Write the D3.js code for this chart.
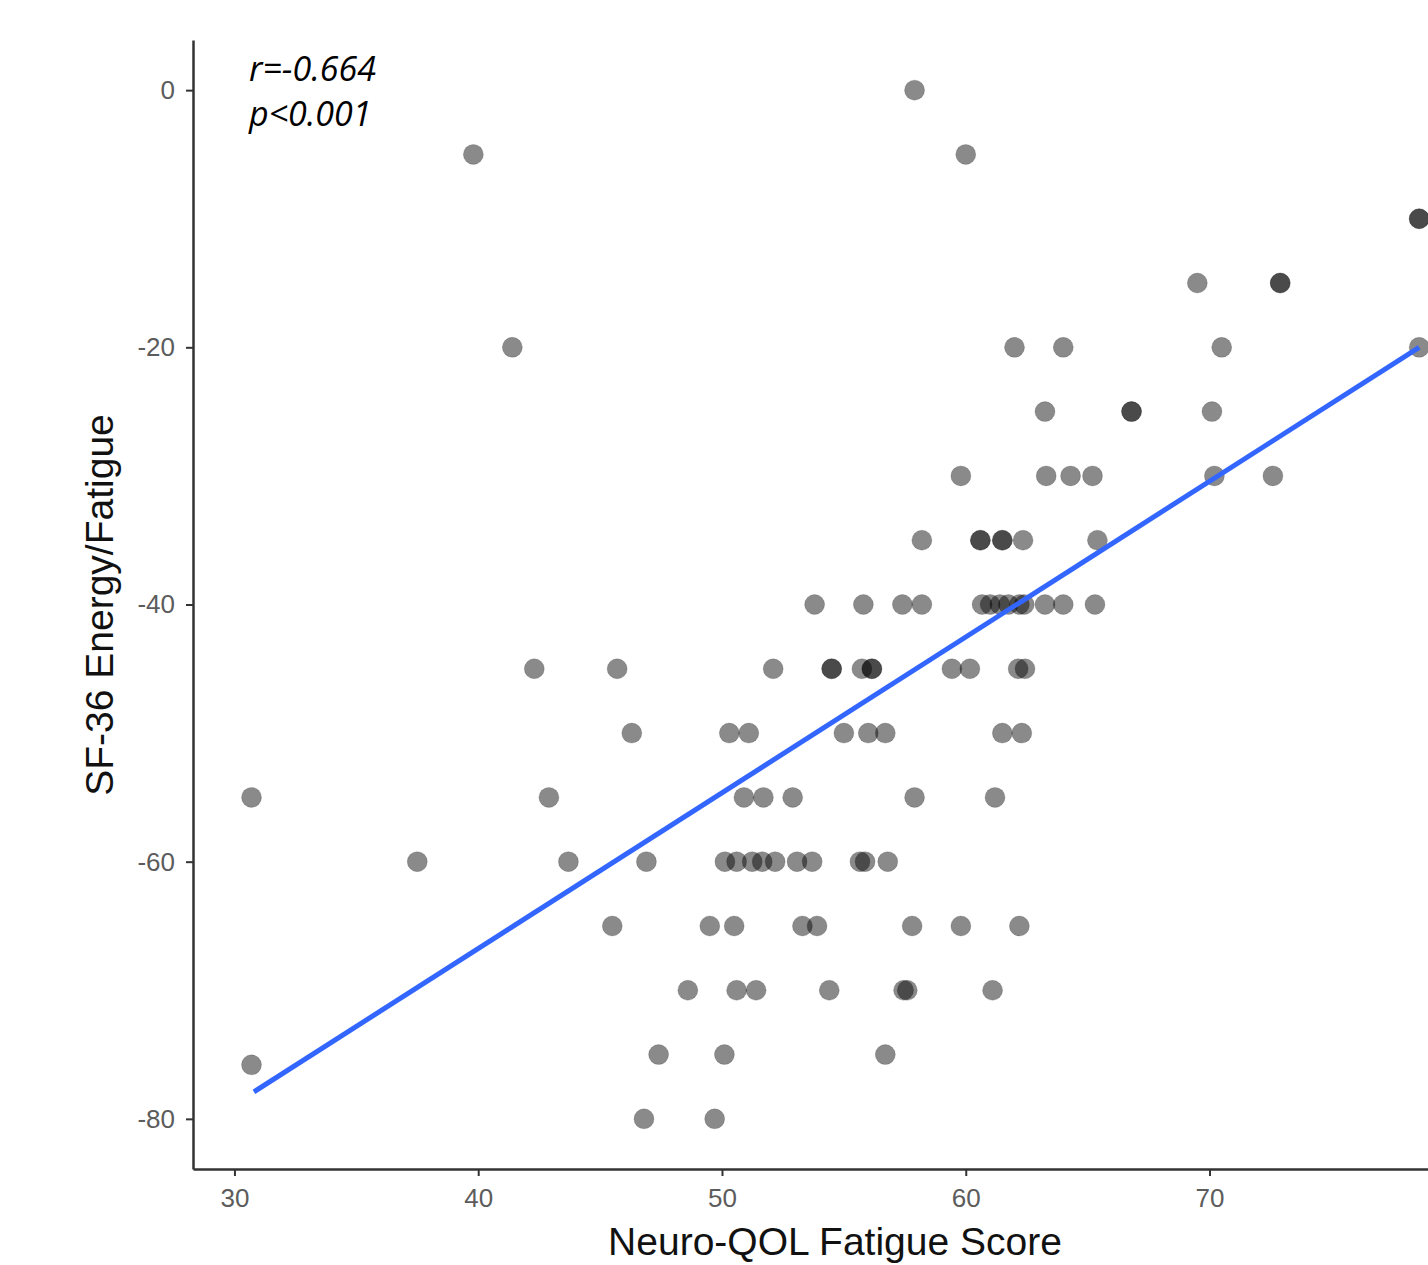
<!DOCTYPE html>
<html>
<head>
<meta charset="utf-8">
<script src="https://cdn.jsdelivr.net/npm/d3@7"></script>
<style>
  body { margin: 0; background: #fff; }
  svg { display: block; }
</style>
</head>
<body>
<script>
// Neuro-QOL fatigue vs SF-36 energy/fatigue
var fatigueScore = [
  57.9,
  39.8, 60.0,
  78.6, 78.6,
  69.5, 72.9, 72.9,
  41.4, 62.0, 64.0, 70.5, 78.6,
  63.25, 66.8, 66.8, 70.1,
  59.8, 63.3, 64.3, 65.2, 70.2, 72.6,
  58.2, 60.6, 60.6, 61.5, 61.5, 62.35, 65.4,
  53.8, 55.8, 57.4, 58.2, 60.67, 61.0, 61.4, 61.75, 62.2, 62.4, 63.25, 64.0, 65.3,
  42.3, 45.7, 52.1, 54.5, 54.5, 55.74, 56.15, 56.15, 59.43, 60.17, 62.15, 62.43,
  46.3, 50.3, 51.1, 55.0, 56.0, 56.7, 61.5, 62.3,
  30.7, 42.9, 50.9, 51.7, 52.9, 57.9, 61.2,
  37.5, 43.7, 46.9, 50.12, 50.6, 51.24, 51.65, 52.18, 53.08, 53.7, 55.66, 55.87, 56.8,
  45.5, 49.5, 50.5, 53.3, 53.9, 57.8, 59.8, 62.2,
  48.6, 50.6, 51.4, 54.4, 57.45, 57.6, 61.1,
  47.4, 50.1, 56.7,
  30.7,
  46.8, 49.7
];
var energyScore = [
  0,
  -5, -5,
  -10, -10,
  -15, -15, -15,
  -20, -20, -20, -20, -20,
  -25, -25, -25, -25,
  -30, -30, -30, -30, -30, -30,
  -35, -35, -35, -35, -35, -35, -35,
  -40, -40, -40, -40, -40, -40, -40, -40, -40, -40, -40, -40, -40,
  -45, -45, -45, -45, -45, -45, -45, -45, -45, -45, -45, -45,
  -50, -50, -50, -50, -50, -50, -50, -50,
  -55, -55, -55, -55, -55, -55, -55,
  -60, -60, -60, -60, -60, -60, -60, -60, -60, -60, -60, -60, -60,
  -65, -65, -65, -65, -65, -65, -65, -65,
  -70, -70, -70, -70, -70, -70, -70,
  -75, -75, -75,
  -75.8,
  -80, -80
];

// fitted line (lm) ends
var fitX = [30.8, 78.6];
var fitY = [-77.9, -20];

var xTicks = [30, 40, 50, 60, 70];
var yTicks = [0, -20, -40, -60, -80];

var statLines = ["r=-0.664", "p<0.001"];

var width = 1428;
var height = 1265;

var svg = d3.select("body").append("svg")
    .attr("width", width)
    .attr("height", height);

var x = d3.scaleLinear().domain([28.3, 80]).range([193, 1453.3]);
var y = d3.scaleLinear().domain([-83.9, 3.9]).range([1169, 40]);

var points = fatigueScore.map((v, i) => ({x: v, y: energyScore[i]}));

// points
svg.append("g")
  .selectAll("circle")
  .data(points)
  .enter().append("circle")
    .attr("cx", d => x(d.x))
    .attr("cy", d => y(d.y))
    .attr("r", 10)
    .style("fill", "#000")
    .style("fill-opacity", 0.46)
    .style("stroke", "#000")
    .style("stroke-opacity", 0.15)
    .style("stroke-width", 1);

// regression line
var fit = fitX.map((v, i) => [v, fitY[i]]);
svg.append("path")
    .datum(fit)
    .attr("d", d3.line().x(d => x(d[0])).y(d => y(d[1])))
    .style("fill", "none")
    .style("stroke", "#3366ff")
    .style("stroke-width", 5);

// axes (plain hyphen for negatives, like the original)
var fmt = d => String(d);

var xAxis = svg.append("g")
    .attr("transform", "translate(0," + y.range()[0] + ")")
    .call(d3.axisBottom(x).tickValues(xTicks).tickFormat(fmt).tickSize(7).tickSizeOuter(0).tickPadding(13));

var yAxis = svg.append("g")
    .attr("transform", "translate(" + x.range()[0] + ",0)")
    .call(d3.axisLeft(y).tickValues(yTicks).tickFormat(fmt).tickSize(7).tickSizeOuter(0).tickPadding(11));

[xAxis, yAxis].forEach(a => {
  a.select(".domain").style("stroke", "#333").style("stroke-width", 2.5);
  a.selectAll(".tick line").style("stroke", "#333").style("stroke-width", 2);
  a.selectAll(".tick text")
    .style("font-family", "Liberation Sans, Arial, sans-serif")
    .style("font-size", "26px")
    .style("fill", "#5c5c5c");
});

// axis titles
svg.append("text")
    .attr("x", 835)
    .attr("y", 1255)
    .attr("text-anchor", "middle")
    .style("font-family", "Liberation Sans, Arial, sans-serif")
    .style("font-size", "39px")
    .style("fill", "#111")
    .text("Neuro-QOL Fatigue Score");

svg.append("text")
    .attr("transform", "translate(113,605) rotate(-90)")
    .attr("text-anchor", "middle")
    .style("font-family", "Liberation Sans, Arial, sans-serif")
    .style("font-size", "39px")
    .style("fill", "#111")
    .text("SF-36 Energy/Fatigue");

// stats
svg.append("g")
  .selectAll("text")
  .data(statLines)
  .enter().append("text")
    .attr("x", 249)
    .attr("y", (d, i) => 81 + i * 45)
    .style("font-family", "Open Sans, sans-serif")
    .style("font-style", "italic")
    .style("font-size", "34px")
    .style("fill", "#000")
    .text(d => d);
</script>
</body>
</html>
